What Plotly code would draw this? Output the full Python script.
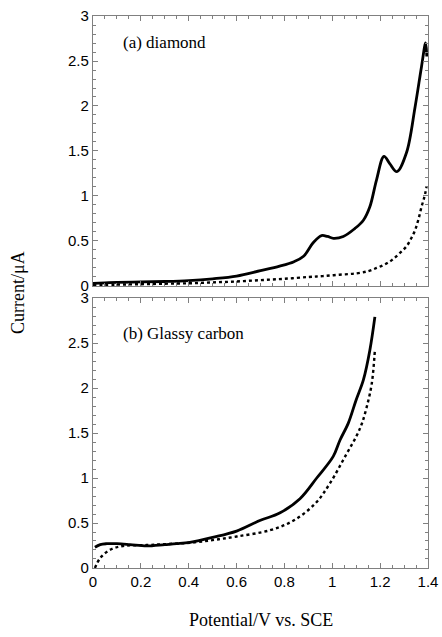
import plotly.graph_objects as go

# (a) diamond
a_x_solid = [0.0, 0.05, 0.1, 0.2, 0.3, 0.4, 0.5, 0.6, 0.7, 0.78, 0.84, 0.88, 0.92, 0.955, 0.98, 1.005, 1.046, 1.095, 1.13, 1.157, 1.185, 1.216, 1.24, 1.27, 1.31, 1.346, 1.373, 1.39, 1.395]
a_y_solid = [0.03, 0.035, 0.04, 0.045, 0.05, 0.06, 0.08, 0.11, 0.17, 0.22, 0.27, 0.33, 0.48, 0.56, 0.55, 0.53, 0.55, 0.64, 0.73, 0.88, 1.18, 1.44, 1.36, 1.27, 1.48, 1.99, 2.44, 2.70, 2.55]
a_x_dot = [0.0, 0.1, 0.2, 0.3, 0.4, 0.5, 0.6, 0.7, 0.8, 0.9, 0.96, 1.03, 1.10, 1.15, 1.185, 1.22, 1.25, 1.28, 1.31, 1.33, 1.346, 1.36, 1.373, 1.385, 1.394]
a_y_dot = [0.01, 0.015, 0.02, 0.025, 0.03, 0.04, 0.05, 0.065, 0.08, 0.1, 0.11, 0.125, 0.14, 0.165, 0.2, 0.24, 0.29, 0.36, 0.44, 0.53, 0.62, 0.74, 0.88, 0.99, 1.10]

# (b) glassy carbon
b_x_solid = [0.008, 0.03, 0.057, 0.1, 0.155, 0.224, 0.3, 0.35, 0.405, 0.5, 0.6, 0.7, 0.78, 0.865, 0.935, 1.004, 1.032, 1.067, 1.10, 1.13, 1.157, 1.178]
b_y_solid = [0.23, 0.26, 0.27, 0.27, 0.26, 0.245, 0.26, 0.27, 0.285, 0.34, 0.41, 0.53, 0.61, 0.77, 1.0, 1.24, 1.42, 1.61, 1.87, 2.09, 2.42, 2.79]
b_x_dot = [0.008, 0.03, 0.07, 0.125, 0.224, 0.3, 0.405, 0.5, 0.6, 0.74, 0.84, 0.93, 0.99, 1.06, 1.10, 1.123, 1.144, 1.165, 1.178]
b_y_dot = [0.0, 0.11, 0.2, 0.245, 0.255, 0.265, 0.28, 0.31, 0.35, 0.42, 0.53, 0.72, 0.94, 1.27, 1.46, 1.6, 1.79, 2.05, 2.42]

x_ticks = [0, 0.2, 0.4, 0.6, 0.8, 1, 1.2, 1.4]
x_tick_labels = ["0", "0.2", "0.4", "0.6", "0.8", "1", "1.2", "1.4"]
y_ticks = [0, 0.5, 1, 1.5, 2, 2.5, 3]
y_tick_labels = ["0", "0.5", "1", "1.5", "2", "2.5", "3"]

SERIF = "Liberation Serif, Times New Roman, serif"
SANS = "Liberation Sans, Arial, sans-serif"
AX = "#808080"

fig = go.Figure()
solid = dict(color="black", width=2.8)
dotted = dict(color="black", width=2.4, dash="dot")
fig.add_trace(go.Scatter(x=a_x_solid, y=a_y_solid, mode="lines", line=dict(**solid, shape="spline"), xaxis="x", yaxis="y"))
fig.add_trace(go.Scatter(x=a_x_dot, y=a_y_dot, mode="lines", line=dict(**dotted, shape="spline"), xaxis="x", yaxis="y"))
fig.add_trace(go.Scatter(x=b_x_solid, y=b_y_solid, mode="lines", line=dict(**solid, shape="spline"), xaxis="x2", yaxis="y2"))
fig.add_trace(go.Scatter(x=b_x_dot, y=b_y_dot, mode="lines", line=dict(**dotted, shape="spline"), xaxis="x2", yaxis="y2"))

def xax(show_labels, anchor):
    return dict(range=[0, 1.4], tickvals=x_ticks, ticktext=x_tick_labels, showticklabels=show_labels,
                ticks="inside", ticklen=5, tickcolor=AX, showline=True, linecolor=AX, linewidth=1.3,
                mirror="ticks", showgrid=False, zeroline=False, anchor=anchor, automargin=False,
                tickfont=dict(family=SANS, size=15, color="black"),
                minor=dict(dtick=0.05, tick0=0, ticks="inside", ticklen=2.5, tickcolor=AX))

def yax(domain, anchor):
    return dict(range=[0, 3], tickvals=y_ticks, ticktext=y_tick_labels, domain=domain,
                ticks="inside", ticklen=5, tickcolor=AX, showline=True, linecolor=AX, linewidth=1.3,
                mirror="ticks", showgrid=False, zeroline=False, anchor=anchor, automargin=False,
                tickfont=dict(family=SANS, size=15, color="black"),
                minor=dict(dtick=0.1, tick0=0, ticks="inside", ticklen=2.5, tickcolor=AX))

fig.update_layout(
    width=442, height=637,
    margin=dict(l=93, r=14, t=16, b=69),
    paper_bgcolor="white", plot_bgcolor="white",
    showlegend=False,
    xaxis=xax(False, "y"),
    yaxis=yax([0.5109, 1.0], "x"),
    xaxis2=xax(True, "y2"),
    yaxis2=yax([0.0, 0.4891], "x2"),
    annotations=[
        dict(text="(a) diamond", x=0.085, y=0.9, xref="x domain", yref="y domain", showarrow=False,
             xanchor="left", yanchor="middle", font=dict(family=SERIF, size=17, color="black")),
        dict(text="(b) Glassy carbon", x=0.085, y=0.87, xref="x2 domain", yref="y2 domain", showarrow=False,
             xanchor="left", yanchor="middle", font=dict(family=SERIF, size=17, color="black")),
        dict(text="Potential/V vs. SCE", x=0.5, y=-0.094, xref="paper", yref="paper", showarrow=False,
             xanchor="center", yanchor="middle", font=dict(family=SERIF, size=18, color="black")),
        dict(text="Current/μA", x=-0.224, y=0.5, xref="paper", yref="paper", showarrow=False, textangle=-90,
             xanchor="center", yanchor="middle", font=dict(family=SERIF, size=18, color="black")),
    ],
)

fig.write_html("out.html", config={"displayModeBar": False},
               post_script="document.body.style.margin='0';document.body.style.overflow='hidden';")
